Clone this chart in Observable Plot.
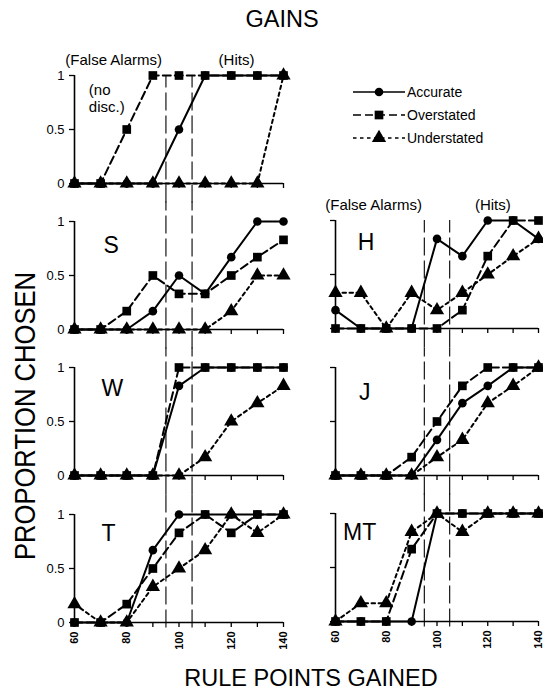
<!DOCTYPE html>
<html><head><meta charset="utf-8">
<script src="https://cdn.jsdelivr.net/npm/d3@7"></script>
<script src="https://cdn.jsdelivr.net/npm/@observablehq/plot@0.6"></script>
<style>
body{margin:0;background:#fff;}
#chart{position:relative;width:543px;height:691px;overflow:hidden;font-family:"Liberation Sans",Arial,sans-serif;color:#000;background:#fff;}
#chart svg{position:absolute;}
</style></head><body><div id="chart"></div>
<script>
// ---- data ----
const points = [60, 70, 80, 90, 100, 110, 120, 130, 140];
const series = ["Accurate", "Overstated", "Understated"];
const xTickLabels = [60, 80, 100, 120, 140];
const yTicks = [0, 0.5, 1];
const criterionLines = [95, 105];
const regionLabels = ["(False Alarms)", "(Hits)"];
const regionCenters = [75, 122];

const noDiscAccurate    = [0, 0, 0, 0, 0.5, 1, 1, 1, 1];
const noDiscOverstated  = [0, 0, 0.5, 1, 1, 1, 1, 1, 1];
const noDiscUnderstated = [0, 0, 0, 0, 0, 0, 0, 0, 1];

const sAccurate    = [0, 0, 0, 0.17, 0.5, 0.33, 0.67, 1, 1];
const sOverstated  = [0, 0, 0.17, 0.5, 0.33, 0.33, 0.5, 0.67, 0.83];
const sUnderstated = [0, 0, 0, 0, 0, 0, 0.17, 0.5, 0.5];

const wAccurate    = [0, 0, 0, 0, 0.83, 1, 1, 1, 1];
const wOverstated  = [0, 0, 0, 0, 1, 1, 1, 1, 1];
const wUnderstated = [0, 0, 0, 0, 0, 0.17, 0.5, 0.67, 0.83];

const tAccurate    = [0, 0, 0, 0.67, 1, 1, 1, 1, 1];
const tOverstated  = [0, 0, 0.17, 0.5, 0.83, 1, 0.83, 1, 1];
const tUnderstated = [0.17, 0, 0, 0.33, 0.5, 0.67, 1, 0.83, 1];

const hAccurate    = [0.17, 0, 0, 0, 0.83, 0.67, 1, 1, 0.83];
const hOverstated  = [0, 0, 0, 0, 0, 0.17, 0.67, 1, 1];
const hUnderstated = [0.33, 0.33, 0, 0.33, 0.17, 0.33, 0.5, 0.67, 0.83];

const jAccurate    = [0, 0, 0, 0, 0.33, 0.67, 0.83, 1, 1];
const jOverstated  = [0, 0, 0, 0.17, 0.5, 0.83, 1, 1, 1];
const jUnderstated = [0, 0, 0, 0, 0.17, 0.33, 0.67, 0.83, 1];

const mtAccurate    = [0, 0, 0, 0, 1, 1, 1, 1, 1];
const mtOverstated  = [0, 0, 0, 0.67, 1, 1, 1, 1, 1];
const mtUnderstated = [0, 0.17, 0.17, 0.83, 1, 0.83, 1, 1, 1];

// ---- layout / style config ----
const FONT = "Liberation Sans, Arial, Helvetica, sans-serif";
const styles = {
  Accurate:    {dash: null,  symbol: "circle",   r: 4.3},
  Overstated:  {dash: "8,4", symbol: "square",   r: 4.9},
  Understated: {dash: "3.5,3.5", symbol: "triangle", r: 5.3}
};
const panels = [
  {label: "(no\ndisc.)", values: [noDiscAccurate, noDiscOverstated, noDiscUnderstated], col: 0, top: 75,  labelX: 65.5, labelDy: 7, labelSize: 15, labelAnchor: "start", region: true,  bottom: false, ruleTop: 1, ruleBottom: -0.18},
  {label: "S",  values: [sAccurate, sOverstated, sUnderstated],    col: 0, top: 221, labelX: 74,   labelDy: 23, labelSize: 23, labelAnchor: "middle", region: false, bottom: false, ruleTop: 1.18, ruleBottom: -0.18},
  {label: "W",  values: [wAccurate, wOverstated, wUnderstated],    col: 0, top: 367, labelX: 74.5, labelDy: 20, labelSize: 23, labelAnchor: "middle", region: false, bottom: false, ruleTop: 1.18, ruleBottom: -0.18},
  {label: "T",  values: [tAccurate, tOverstated, tUnderstated],    col: 0, top: 514, labelX: 73,   labelDy: 18, labelSize: 23, labelAnchor: "middle", region: false, bottom: true,  ruleTop: 1.18, ruleBottom: -0.05},
  {label: "H",  values: [hAccurate, hOverstated, hUnderstated],    col: 1, top: 220, labelX: 72,   labelDy: 21, labelSize: 23, labelAnchor: "middle", region: true,  bottom: false, ruleTop: 1, ruleBottom: -0.18},
  {label: "J",  values: [jAccurate, jOverstated, jUnderstated],    col: 1, top: 367, labelX: 71.5, labelDy: 24, labelSize: 23, labelAnchor: "middle", region: false, bottom: false, ruleTop: 1.18, ruleBottom: -0.18},
  {label: "MT", values: [mtAccurate, mtOverstated, mtUnderstated], col: 1, top: 513, labelX: 69.5, labelDy: 18, labelSize: 23, labelAnchor: "middle", region: false, bottom: true,  ruleTop: 1.18, ruleBottom: -0.05}
];

const chart = document.getElementById("chart");

// ---- overlay text: title, axis titles, legend ----
const ov = d3.select(chart).append("svg")
  .attr("width", 543).attr("height", 691)
  .style("left", "0px").style("top", "0px")
  .attr("font-family", FONT).attr("fill", "black");
ov.append("text").attr("x", 282).attr("y", 27).attr("text-anchor", "middle")
  .attr("font-size", 23.5).text("GAINS");
ov.append("text").attr("x", 311).attr("y", 686).attr("text-anchor", "middle")
  .attr("font-size", 23.5).text("RULE POINTS GAINED");
ov.append("text").attr("transform", "translate(35,416) rotate(-90)")
  .attr("text-anchor", "middle").attr("font-size", 30)
  .attr("textLength", 288).attr("lengthAdjust", "spacingAndGlyphs")
  .text("PROPORTION CHOSEN");

const legendY = [92, 115, 138];
series.forEach((s, i) => {
  const st = styles[s];
  const g = ov.append("g").attr("transform", `translate(0,${legendY[i]})`);
  g.append("line").attr("x1", 353).attr("x2", 405).attr("y1", 0).attr("y2", 0)
    .attr("stroke", "black").attr("stroke-width", 1.6)
    .attr("stroke-dasharray", st.dash);
  const sym = {circle: d3.symbolCircle, square: d3.symbolSquare, triangle: d3.symbolTriangle}[st.symbol];
  g.append("path").attr("transform", "translate(379,0)")
    .attr("d", d3.symbol(sym, Math.PI * st.r * st.r)());
  g.append("text").attr("x", 407).attr("y", 0).attr("dy", "0.35em")
    .attr("font-size", 14).text(s);
});

// ---- panels ----
const PH = 108, MT = 45, MB = 45;
for (const p of panels) {
  const left = p.col === 0;
  const table = [];
  series.forEach((s, i) => points.forEach((x, j) => table.push({series: s, x, y: p.values[i][j]})));
  const lineMarks = ["Understated", "Overstated", "Accurate"].map(s =>
    Plot.line(table.filter(d => d.series === s), {x: "x", y: "y", stroke: "black", strokeWidth: 2,
      strokeDasharray: styles[s].dash ?? undefined}));
  const dotMarks = ["Understated", "Accurate", "Overstated"].map(s =>
    Plot.dot(table.filter(d => d.series === s), {x: "x", y: "y", symbol: styles[s].symbol, r: styles[s].r, fill: "black", stroke: "none"}));
  const textMarks = [
    Plot.text([p.label], {x: p.labelX, frameAnchor: "top", dy: p.labelDy, fontSize: p.labelSize,
      textAnchor: p.labelAnchor, lineAnchor: p.labelAnchor === "start" ? "top" : "middle", lineHeight: 1.15})
  ];
  if (p.region) textMarks.push(Plot.text(regionLabels, {x: (d, i) => regionCenters[i], frameAnchor: "top", dy: -21, fontSize: 15}));
  const svg = Plot.plot({
    width: left ? 290 : 253,
    height: MT + PH + MB,
    marginTop: MT, marginBottom: MB,
    marginLeft: left ? 74 : 45, marginRight: left ? 7 : 5,
    x: {domain: [60, 140], axis: null},
    y: {domain: [0, 1], axis: null},
    style: {background: "transparent", fontFamily: FONT, fontSize: "13px", color: "black", overflow: "visible"},
    marks: [
      Plot.ruleX(criterionLines, {y1: p.ruleBottom, y2: p.ruleTop, stroke: "black", strokeWidth: 1.1, strokeDasharray: "18,5"}),
      Plot.ruleY([0], {stroke: "black", strokeWidth: 1.6}),
      Plot.ruleX([60], {stroke: "black", strokeWidth: 1.6}),
      Plot.axisX({ticks: points, tickSize: 5, tickPadding: 4, tickRotate: -90, strokeWidth: 1.3, label: null,
        tickFormat: d => (p.bottom && xTickLabels.includes(d)) ? String(d) : "", fontSize: 11, fontWeight: "bold"}),
      Plot.axisY({ticks: yTicks, tickSize: 5, tickPadding: 5, strokeWidth: 1.3, label: null,
        tickFormat: d => left ? String(d) : "", fontSize: 13}),
      ...lineMarks,
      ...dotMarks,
      ...textMarks
    ]
  });
  svg.style.position = "absolute";
  svg.style.left = (left ? 0 : 290) + "px";
  svg.style.top = (p.top - MT) + "px";
  chart.appendChild(svg);
}
</script>
</body></html>
